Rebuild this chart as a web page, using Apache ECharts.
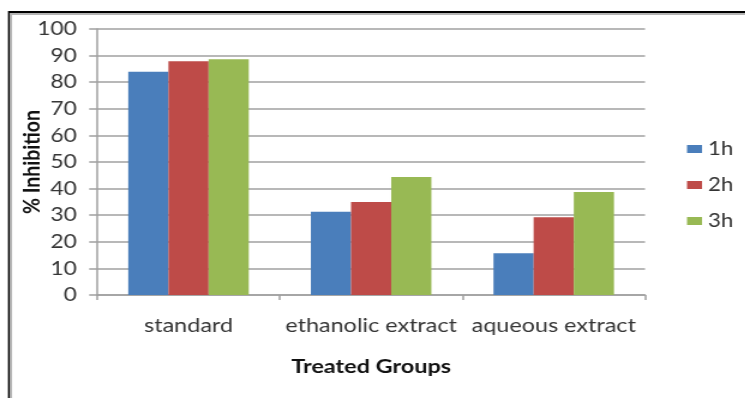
<!DOCTYPE html>
<html>
<head>
<meta charset="utf-8">
<title>% Inhibition by treated group</title>
<script src="https://cdn.jsdelivr.net/npm/echarts@6/dist/echarts.min.js"></script>
<style>
  html, body { margin: 0; padding: 0; background: #ffffff; overflow: hidden; }
  #wrap { width: 745px; height: 398px; overflow: hidden; }
  /* the chart is laid out on a narrower canvas and widened horizontally */
  #chart { width: 621px; height: 398px; transform: scaleX(1.2); transform-origin: 0 0; }
</style>
</head>
<body>
<div id="wrap"><div id="chart"></div></div>
<script>
// Treated groups along the x axis
const groups = ['standard', 'ethanolic extract', 'aqueous extract'];
// Time points shown in the legend
const timePoints = ['1h', '2h', '3h'];
// % inhibition for each group at each time point
const inhibition1h = [83.9, 31.3, 15.7];
const inhibition2h = [87.9, 35.0, 29.2];
const inhibition3h = [88.6, 44.4, 38.7];
// Value axis ticks
const yMin = 0, yMax = 100, yStep = 10;

const palette = ['#4a7ebb', '#be4b48', '#98b954'];
const font = 'Lato, "Open Sans", sans-serif';
const gridColor = '#a0a0a0';

const chart = echarts.init(document.getElementById('chart'), null, { renderer: 'canvas' });

const seriesValues = [inhibition1h, inhibition2h, inhibition3h];

chart.setOption({
  animation: false,
  backgroundColor: '#ffffff',
  color: palette,
  grid: { left: 81, right: 83.5, top: 29, bottom: 103, containLabel: false },
  legend: {
    data: timePoints,
    orient: 'vertical',
    left: 567.5,
    top: 133,
    itemWidth: 12.5,
    itemHeight: 8,
    itemGap: 14,
    icon: 'rect',
    textStyle: { fontFamily: font, fontSize: 18.5, color: '#333333', lineHeight: 22 }
  },
  xAxis: {
    type: 'category',
    data: groups,
    name: 'Treated Groups',
    nameLocation: 'middle',
    nameMoveOverlap: false,
    nameGap: 62,
    nameTextStyle: { fontFamily: font, fontSize: 19.5, fontWeight: 'bold', color: '#111111' },
    axisLine: { lineStyle: { color: gridColor, width: 1.5 } },
    axisTick: { show: true, length: 5, lineStyle: { color: gridColor, width: 1.5 } },
    axisLabel: { interval: 0, fontFamily: font, fontSize: 19.5, color: '#363636', margin: 21 }
  },
  yAxis: {
    type: 'value',
    min: yMin,
    max: yMax,
    interval: yStep,
    name: '% Inhibition',
    nameLocation: 'middle',
    nameMoveOverlap: false,
    nameGap: 44,
    nameRotate: 90,
    nameTextStyle: { fontFamily: font, fontSize: 19.5, fontWeight: 'bold', color: '#111111' },
    axisLine: { show: true, lineStyle: { color: gridColor, width: 1.5 } },
    axisTick: { show: true, length: 6.7, lineStyle: { color: gridColor, width: 1.5 } },
    axisLabel: { fontFamily: font, fontSize: 19, color: '#363636', margin: 17 },
    splitLine: { show: true, lineStyle: { color: gridColor, width: 1.5 } }
  },
  series: timePoints.map((name, i) => ({
    name: name,
    type: 'bar',
    data: seriesValues[i],
    barGap: '0%',
    barCategoryGap: '34%',
    itemStyle: { color: palette[i] }
  })),
  graphic: [
    // frame: dark edge with a light shadow line along the top and left sides
    { type: 'line', silent: true, z: 100, shape: { x1: 7.5, y1: 12, x2: 640, y2: 12 }, style: { stroke: '#000000', lineWidth: 2 } },
    { type: 'line', silent: true, z: 100, shape: { x1: 9.2, y1: 14, x2: 640, y2: 14 }, style: { stroke: '#b4b4b4', lineWidth: 2 } },
    { type: 'line', silent: true, z: 100, shape: { x1: 7.5, y1: 11, x2: 7.5, y2: 420 }, style: { stroke: '#000000', lineWidth: 1.7 } },
    { type: 'line', silent: true, z: 100, shape: { x1: 9.2, y1: 13, x2: 9.2, y2: 420 }, style: { stroke: '#b4b4b4', lineWidth: 1.7 } }
  ]
});
</script>
</body>
</html>
